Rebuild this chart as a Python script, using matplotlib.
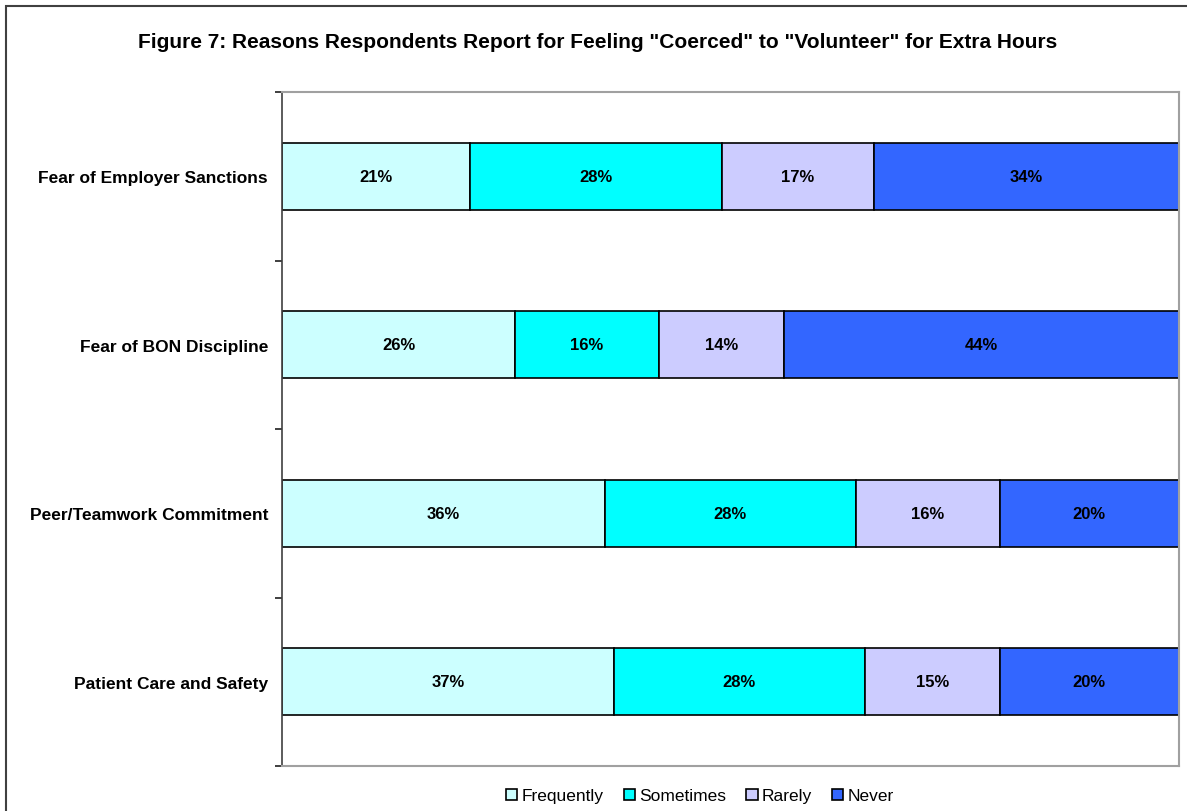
import matplotlib.pyplot as plt
import numpy as np
from matplotlib.patches import Rectangle

plt.rcParams['font.family'] = ['Liberation Sans', 'DejaVu Sans']

# survey reasons, bottom to top
reasons = ['Patient Care and Safety', 'Peer/Teamwork Commitment',
           'Fear of BON Discipline', 'Fear of Employer Sanctions']
answers = ['Frequently', 'Sometimes', 'Rarely', 'Never']
frequently = [37, 36, 26, 21]
sometimes = [28, 28, 16, 28]
rarely = [15, 16, 14, 17]
never = [20, 20, 44, 34]
colors = ['#CCFFFF', '#00FFFF', '#CCCCFF', '#3366FF']

fig = plt.figure(figsize=(11.87, 8.12), dpi=100)
ax = fig.add_axes([282/1187, 1 - 767/812, (1179-282)/1187, (767-93)/812])

# outer frame round the chart
fig.patches.append(Rectangle((6/1187, -0.05), 1.2, 1 - 7/812 + 0.05,
                             transform=fig.transFigure, fill=False,
                             edgecolor='#404040', linewidth=1.5))

y = np.arange(len(reasons))
left = np.zeros(len(reasons))
for name, vals, c in zip(answers, [frequently, sometimes, rarely, never], colors):
    vals = np.array(vals)
    ax.barh(y, vals, left=left, height=0.4, color=c, edgecolor='black',
            linewidth=1.2, label=name)
    for yi, l, v in zip(y, left, vals):
        ax.text(l + v/2, yi, f'{v}%', ha='center', va='center',
                fontsize=12, fontweight='bold')
    left += vals

ax.set_xlim(0, 100)
ax.set_ylim(-0.5, 3.5)
ax.set_xticks([])
ax.set_yticks(y)
ax.set_yticklabels(reasons, fontsize=12.5, fontweight='bold')
ax.tick_params(axis='y', which='major', length=0, pad=10)
ax.set_yticks(np.arange(-0.5, 4, 1), minor=True)
ax.tick_params(axis='y', which='minor', length=5, width=1.3, color='#303030')

for s in ['top', 'right', 'bottom']:
    ax.spines[s].set_color('#A0A0A0')
    ax.spines[s].set_linewidth(1.5)
ax.spines['left'].set_color('#404040')
ax.spines['left'].set_linewidth(1.2)

fig.text(598/1187, 1 - 43/812,
         'Figure 7: Reasons Respondents Report for Feeling "Coerced" to "Volunteer" for Extra Hours',
         ha='center', va='center', fontsize=15, fontweight='bold')

leg = fig.legend(loc='center', bbox_to_anchor=(700/1187, 1 - 797/812), ncol=4,
                 frameon=False, fontsize=12.5, handlelength=0.65, handleheight=0.65,
                 handletextpad=0.25, columnspacing=1.15)
for h in leg.legend_handles:
    h.set_linewidth(1.2)

fig.savefig('out.png', dpi=100)
